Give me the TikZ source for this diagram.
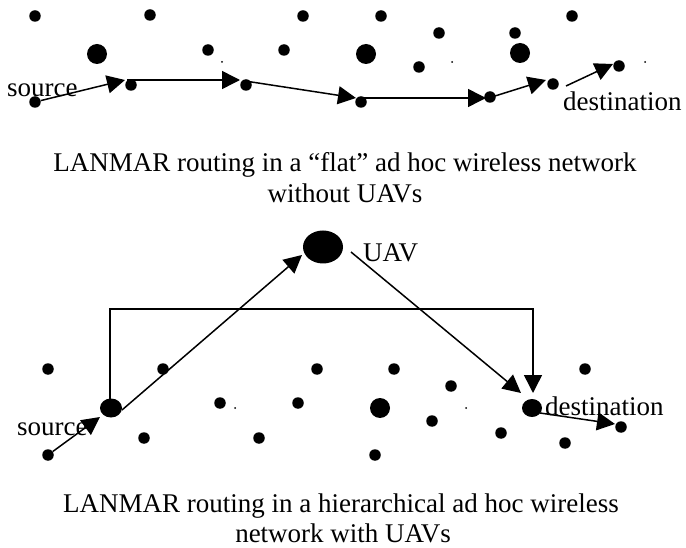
\documentclass[tikz,border=0pt]{standalone}
\usepackage{fontspec}
\setmainfont{Liberation Serif}
\usetikzlibrary{arrows.meta,shapes.geometric}
\begin{document}
\begin{tikzpicture}[x=1pt,y=-1pt,
  dot/.style={circle,fill=black,inner sep=0pt,minimum size=11.5pt},
  bigdot/.style={ellipse,fill=black,inner sep=0pt,minimum width=20pt,minimum height=20pt},
  tinydot/.style={circle,fill=black,inner sep=0pt,minimum size=2pt},
  link/.style={line width=1.5pt,-{Triangle[length=18pt,width=18pt]}},
  lbl/.style={inner sep=0pt,font=\fontsize{27}{31}\selectfont},
  ]
\useasboundingbox (0,0) rectangle (686,548);

% ---------------- top: flat network ----------------
\node[dot] (t1) at (35,16) {};
\node[dot] (t2) at (150,15) {};
\node[dot] (t3) at (303,16) {};
\node[dot] (t4) at (381,16) {};
\node[dot] (t5) at (572,16) {};
\node[dot] (t6) at (208,50) {};
\node[dot] (t7) at (284,50) {};
\node[dot] (t8) at (439,33) {};
\node[dot] (t9) at (515,33) {};
\node[dot] (t10) at (419,67) {};
\node[bigdot] (b1) at (97,54) {};
\node[bigdot] (b2) at (366,54) {};
\node[bigdot] (b3) at (520,53) {};
\node[tinydot] (x1) at (222,62) {};
\node[tinydot] (x2) at (452,62) {};
\node[tinydot] (x3) at (645,62) {};

\node[dot] (s) at (35,102) {};
\node[dot] (p1) at (131,85) {};
\node[dot] (p2) at (246,85) {};
\node[dot] (p3) at (361,102) {};
\node[dot] (p4) at (490,97) {};
\node[dot] (p5) at (553,84) {};
\node[dot] (d) at (619,66) {};

\coordinate (a1e) at (125,80);
\coordinate (a2s) at (127,80);
\coordinate (a2e) at (240,80);
\coordinate (a3s) at (245,81);
\coordinate (a3e) at (356,98);
\coordinate (a4s) at (361,98);
\coordinate (a4e) at (486,98);
\coordinate (a5s) at (495,96);
\coordinate (a5e) at (546,80);
\coordinate (a6s) at (566,86);
\coordinate (a6e) at (613,64);

\draw[link] (s) -- (a1e);
\draw[link] (a2s) -- (a2e);
\draw[link] (a3s) -- (a3e);
\draw[link] (a4s) -- (a4e);
\draw[link] (a5s) -- (a5e);
\draw[link] (a6s) -- (a6e);

\node[lbl,anchor=base west] (srcA) at (7,97) {source};
\node[lbl,anchor=base west] (dstA) at (563,111) {destination};

\node[lbl,anchor=base] (capA1) at (345,172) {LANMAR routing in a “flat” ad hoc wireless network};
\node[lbl,anchor=base] (capA2) at (345,203) {without UAVs};

% ---------------- bottom: hierarchical network ----------------
\node[dot] (u1) at (48,369) {};
\node[dot] (u2) at (163,369) {};
\node[dot] (u3) at (317,369) {};
\node[dot] (u4) at (394,369) {};
\node[dot] (u5) at (585,369) {};
\node[dot] (u6) at (220,403) {};
\node[dot] (u7) at (298,403) {};
\node[dot] (u8) at (451,386) {};
\node[dot] (u9) at (432,421) {};
\node[dot] (u10) at (501,433) {};
\node[dot] (u11) at (565,443) {};
\node[dot] (u12) at (144,438) {};
\node[dot] (u13) at (259,438) {};
\node[dot] (u14) at (375,455) {};
\node[bigdot] (u15) at (380,408) {};
\node[tinydot] (y1) at (235,408) {};
\node[tinydot] (y2) at (466,408) {};

\node[dot] (src) at (48,455) {};
\node[bigdot,minimum width=22pt,minimum height=19pt] (relay) at (111,408) {};
\node[bigdot,minimum width=20pt,minimum height=18pt] (dst) at (532,408) {};
\node[dot] (fin) at (621,427) {};
\node[bigdot,minimum width=40pt,minimum height=33pt] (uav) at (323,247) {};

\coordinate (c1e) at (100,417);
\coordinate (c2s) at (122,410);
\coordinate (c2e) at (302,255);
\coordinate (c3s) at (110,399);
\coordinate (c3a) at (110,309);
\coordinate (c3b) at (533,309);
\coordinate (c3e) at (533,393);
\coordinate (c4s) at (351,252);
\coordinate (c4e) at (521,393);
\coordinate (c5s) at (540,413);
\coordinate (c5e) at (615,424);

\draw[link] (src) -- (c1e);
\draw[link] (c2s) -- (c2e);
\draw[link] (c3s) -- (c3a) -- (c3b) -- (c3e);
\draw[link] (c4s) -- (c4e);
\draw[link] (c5s) -- (c5e);

\node[lbl,anchor=base west] (uavl) at (363,262) {UAV};
\node[lbl,anchor=base west] (srcB) at (17,435) {source};
\node[lbl,anchor=base west] (dstB) at (545,415) {destination};

\node[lbl,anchor=base] (capB1) at (341,512) {LANMAR routing in a hierarchical ad hoc wireless};
\node[lbl,anchor=base] (capB2) at (343,542) {network with UAVs};
\end{tikzpicture}
\end{document}
